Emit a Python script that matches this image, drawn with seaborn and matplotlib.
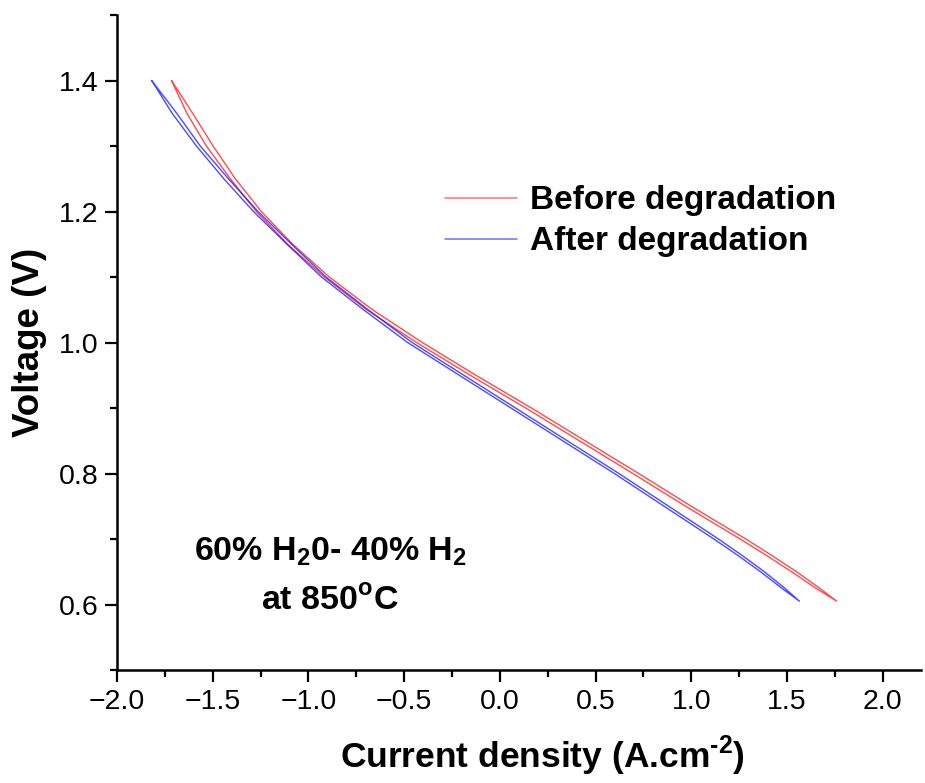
import matplotlib
matplotlib.use("Agg")
from matplotlib import pyplot as plt
from matplotlib.ticker import MultipleLocator
import seaborn as sns
import pandas as pd

# voltage steps of the sweep (V)
volts = [1.40, 1.35, 1.30, 1.25, 1.20, 1.15, 1.10, 1.05, 1.00, 0.95, 0.90,
         0.85, 0.80, 0.75, 0.70, 0.675, 0.65, 0.625, 0.605]

j_before_down = [-1.715, -1.605, -1.498, -1.382, -1.246, -1.082, -0.891, -0.665, -0.405, -0.125, 0.165,
                 0.445, 0.725, 1.000, 1.285, 1.420, 1.550, 1.670, 1.760]
j_before_up = [-1.715, -1.635, -1.533, -1.408, -1.272, -1.108, -0.917, -0.695, -0.435, -0.155, 0.135,
               0.415, 0.695, 0.970, 1.255, 1.392, 1.524, 1.650, 1.760]
j_after_down = [-1.819, -1.688, -1.565, -1.418, -1.263, -1.088, -0.908, -0.688, -0.458, -0.188, 0.082,
                0.352, 0.622, 0.882, 1.142, 1.265, 1.382, 1.488, 1.565]
j_after_up = [-1.819, -1.712, -1.585, -1.442, -1.287, -1.112, -0.932, -0.712, -0.482, -0.212, 0.058,
              0.328, 0.598, 0.858, 1.118, 1.243, 1.362, 1.472, 1.565]

labels = ["Before degradation", "After degradation"]
colors = {"Before degradation": "#ff1010", "After degradation": "#1010ff"}

# one closed loop per condition (sweep down then back up)
rows = []
for lab, jd, ju in [(labels[0], j_before_down, j_before_up),
                    (labels[1], j_after_down, j_after_up)]:
    jj = jd + ju[::-1]
    vv = volts + volts[::-1]
    for i in range(len(jj)):
        rows.append({"j": jj[i], "V": vv[i], "cond": lab})
df = pd.DataFrame(rows)

sns.set_style("ticks")
plt.rcParams['font.family'] = ['Liberation Sans', 'DejaVu Sans']
plt.rcParams['mathtext.fontset'] = 'custom'
plt.rcParams['mathtext.rm'] = 'Liberation Sans'
plt.rcParams['mathtext.bf'] = 'Liberation Sans:bold'
for k in ['text.color', 'axes.labelcolor', 'xtick.color', 'ytick.color', 'axes.edgecolor']:
    plt.rcParams[k] = 'black'

fig = plt.figure(figsize=(9.25, 7.83), dpi=100)
ax = fig.add_axes([0.1265, 0.1443, 0.8692, 0.8365])

sns.lineplot(data=df, x="j", y="V", hue="cond", hue_order=labels, palette=colors,
             sort=False, estimator=None, linewidth=1.0, alpha=0.75, ax=ax)

ax.set_xlim(-2.0, 2.2)
ax.set_ylim(0.5, 1.5)
ax.xaxis.set_major_locator(MultipleLocator(0.5))
ax.xaxis.set_minor_locator(MultipleLocator(0.25))
ax.yaxis.set_minor_locator(MultipleLocator(0.1))
ax.set_yticks([0.6, 0.8, 1.0, 1.2, 1.4])
ax.tick_params(which='major', direction='out', length=8.5, width=1.6, labelsize=20.5, pad=5)
ax.tick_params(which='minor', direction='out', length=5, width=1.6)
sns.despine(ax=ax)
for s in ['left', 'bottom']:
    ax.spines[s].set_linewidth(1.8)

ax.set_xlabel("Current density (A.cm$^{\\mathbf{\u20102}}$)", fontsize=25.5, fontweight='bold')
ax.xaxis.set_label_coords(0.529, -0.097)
ax.set_ylabel("Voltage (V)", fontsize=26.5, fontweight='bold', labelpad=8)

ax.text(0.265, 0.18, r"60% H$_\mathbf{2}$0- 40% H$_\mathbf{2}$", transform=ax.transAxes,
        ha='center', va='center', fontsize=24.5, fontweight='bold')
ax.text(0.265, 0.105, r"at 850$^\mathbf{o}$C", transform=ax.transAxes,
        ha='center', va='center', fontsize=24.5, fontweight='bold')

leg = ax.legend(loc='upper left', bbox_to_anchor=(0.408, 0.74), frameon=False,
                fontsize=24, handlelength=2.15, handletextpad=0.4, labelspacing=0.3,
                borderpad=0, borderaxespad=0)
for t in leg.get_texts():
    t.set_fontweight('bold')
for h in leg.get_lines():
    h.set_alpha(0.55)
    h.set_linewidth(1.2)

fig.savefig("out.png", dpi=100)
